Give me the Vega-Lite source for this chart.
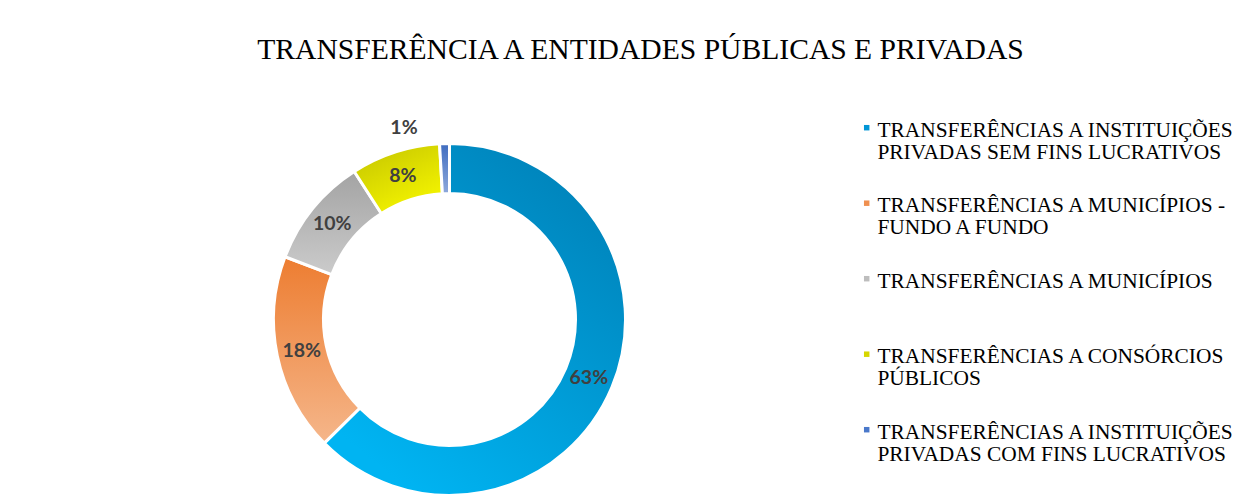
{
  "$schema": "https://vega.github.io/schema/vega-lite/v6.json",
  "width": 899,
  "height": 355,
  "autosize": {"type": "none"},
  "padding": {"left": 0, "top": 142, "right": 361, "bottom": 0},
  "background": "white",
  "title": {
    "text": "TRANSFERÊNCIA A ENTIDADES PÚBLICAS E PRIVADAS",
    "font": "Liberation Serif",
    "fontSize": 29.6,
    "fontWeight": "normal",
    "color": "#000000",
    "anchor": "middle",
    "frame": "group",
    "dx": 191,
    "offset": 28,
    "baseline": "alphabetic"
  },
  "data": {
    "values": [
      {"categoria": "TRANSFERÊNCIAS A INSTITUIÇÕES PRIVADAS SEM FINS LUCRATIVOS", "valor": 0.626, "ordem": 1},
      {"categoria": "TRANSFERÊNCIAS A MUNICÍPIOS - FUNDO A FUNDO", "valor": 0.182, "ordem": 2},
      {"categoria": "TRANSFERÊNCIAS A MUNICÍPIOS", "valor": 0.101, "ordem": 3},
      {"categoria": "TRANSFERÊNCIAS A CONSÓRCIOS PÚBLICOS", "valor": 0.082, "ordem": 4},
      {"categoria": "TRANSFERÊNCIAS A INSTITUIÇÕES PRIVADAS COM FINS LUCRATIVOS", "valor": 0.009, "ordem": 5}
    ]
  },
  "encoding": {
    "theta": {"field": "valor", "type": "quantitative", "stack": true},
    "order": {"field": "ordem", "type": "quantitative"},
    "detail": {"field": "categoria"}
  },
  "layer": [
    {
      "mark": {"type": "arc", "outerRadius": 176, "innerRadius": 126, "stroke": "white", "strokeWidth": 3},
      "encoding": {
        "fill": {
          "condition": [
            {"test": "datum.ordem == 1", "value": {"gradient": "linear", "x1": 1, "y1": 0, "x2": 0.3, "y2": 1, "stops": [{"offset": 0, "color": "#007CB2"}, {"offset": 1, "color": "#00B4F2"}]}},
            {"test": "datum.ordem == 2", "value": {"gradient": "linear", "x1": 0, "y1": 0, "x2": 0, "y2": 1, "stops": [{"offset": 0, "color": "#ED7D31"}, {"offset": 1, "color": "#F5B68A"}]}},
            {"test": "datum.ordem == 3", "value": {"gradient": "linear", "x1": 0, "y1": 0, "x2": 0, "y2": 1, "stops": [{"offset": 0, "color": "#A3A3A3"}, {"offset": 1, "color": "#CBCBCB"}]}},
            {"test": "datum.ordem == 4", "value": {"gradient": "linear", "x1": 0, "y1": 0, "x2": 0.6, "y2": 1, "stops": [{"offset": 0, "color": "#C2C200"}, {"offset": 1, "color": "#F4F400"}]}}
          ],
          "value": {"gradient": "linear", "x1": 0, "y1": 0, "x2": 0, "y2": 1, "stops": [{"offset": 0, "color": "#3F6CC0"}, {"offset": 1, "color": "#8EA9DB"}]}
        }
      }
    },
    {
      "mark": {"type": "text", "text": ""},
      "encoding": {
        "color": {
          "field": "categoria",
          "type": "nominal",
          "scale": {
            "domain": [
              "TRANSFERÊNCIAS A INSTITUIÇÕES PRIVADAS SEM FINS LUCRATIVOS",
              "TRANSFERÊNCIAS A MUNICÍPIOS - FUNDO A FUNDO",
              "TRANSFERÊNCIAS A MUNICÍPIOS",
              "TRANSFERÊNCIAS A CONSÓRCIOS PÚBLICOS",
              "TRANSFERÊNCIAS A INSTITUIÇÕES PRIVADAS COM FINS LUCRATIVOS"
            ],
            "range": ["#0096D6", "#EF9050", "#BDBDBD", "#D6D600", "#4A78CA"]
          },
          "legend": {
            "orient": "none",
            "legendX": 856,
            "legendY": -25,
            "direction": "vertical",
            "title": null,
            "padding": 0,
            "symbolType": "square",
            "symbolSize": 30,
            "symbolStrokeWidth": 0,
            "symbolOpacity": 1,
            "labelFont": "Liberation Serif",
            "labelFontSize": 21.4,
            "labelColor": "#000000",
            "labelLimit": 500,
            "labelOffset": 0,
            "rowPadding": 28.5,
            "labelBaseline": "top",
            "encode": {"labels": {"update": {"dy": {"value": -8}, "lineHeight": {"value": 22}}}},
            "labelExpr": "datum.label == 'TRANSFERÊNCIAS A INSTITUIÇÕES PRIVADAS SEM FINS LUCRATIVOS' ? ['TRANSFERÊNCIAS A INSTITUIÇÕES', 'PRIVADAS SEM FINS LUCRATIVOS'] : datum.label == 'TRANSFERÊNCIAS A MUNICÍPIOS - FUNDO A FUNDO' ? ['TRANSFERÊNCIAS A MUNICÍPIOS -', 'FUNDO A FUNDO'] : datum.label == 'TRANSFERÊNCIAS A CONSÓRCIOS PÚBLICOS' ? ['TRANSFERÊNCIAS A CONSÓRCIOS', 'PÚBLICOS'] : datum.label == 'TRANSFERÊNCIAS A INSTITUIÇÕES PRIVADAS COM FINS LUCRATIVOS' ? ['TRANSFERÊNCIAS A INSTITUIÇÕES', 'PRIVADAS COM FINS LUCRATIVOS'] : [datum.label, ' ']"
          }
        }
      }
    },
    {
      "mark": {"type": "text", "radius": 151, "font": "Lato", "fontSize": 19.5, "fontWeight": "bold", "color": "#404040"},
      "encoding": {
        "text": {"condition": {"test": "datum.valor < 0.02", "value": ""}, "field": "valor", "type": "quantitative", "format": ".0%"}
      }
    },
    {
      "mark": {"type": "text", "radius": 196, "dx": -40, "dy": 4, "font": "Lato", "fontSize": 19.5, "fontWeight": "bold", "color": "#404040"},
      "encoding": {
        "text": {"condition": {"test": "datum.valor >= 0.02", "value": ""}, "field": "valor", "type": "quantitative", "format": ".0%"}
      }
    }
  ]
}
